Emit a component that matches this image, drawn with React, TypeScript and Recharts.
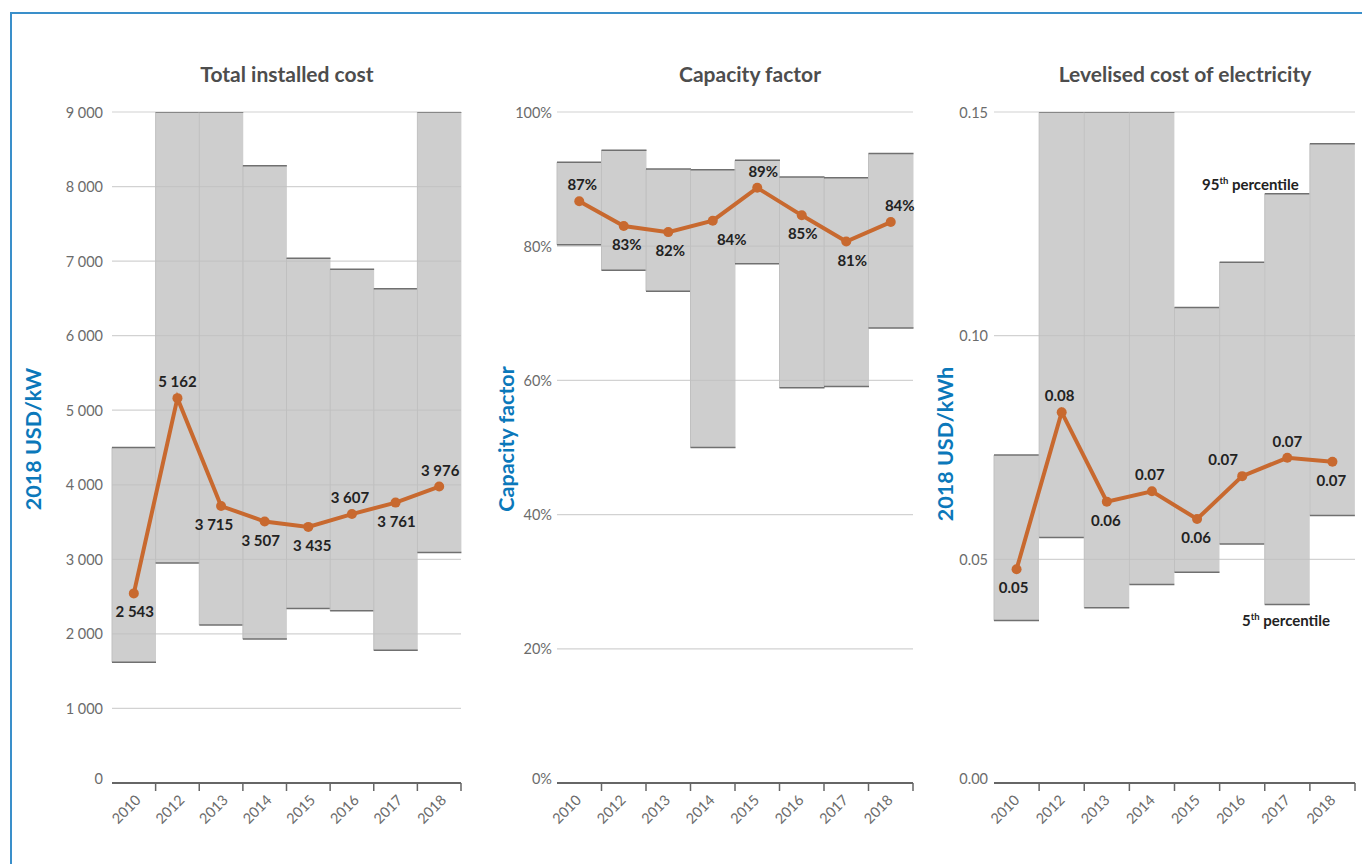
import React from 'react';
import { ComposedChart, Bar, Line, XAxis, YAxis, CartesianGrid, LabelList } from 'recharts';

const years = ['2010', '2012', '2013', '2014', '2015', '2016', '2017', '2018'];

// Total installed cost, 2018 USD/kW
const costP95 = [4500, 9000, 9000, 8280, 7040, 6890, 6630, 9000];
const costP5 = [1620, 2950, 2120, 1930, 2340, 2310, 1780, 3090];
const costAvg = [2543, 5162, 3715, 3507, 3435, 3607, 3761, 3976];
const costTicks = [0, 1000, 2000, 3000, 4000, 5000, 6000, 7000, 8000, 9000];

// Capacity factor, %
const cfP95 = [92.5, 94.3, 91.5, 91.4, 92.8, 90.3, 90.2, 93.8];
const cfP5 = [80.2, 76.4, 73.3, 50.0, 77.4, 58.9, 59.1, 67.8];
const cfAvg = [86.7, 83.0, 82.1, 83.8, 88.7, 84.6, 80.7, 83.6];
const cfTicks = [0, 20, 40, 60, 80, 100];

// Levelised cost of electricity, 2018 USD/kWh
const lcoeP95 = [0.0733, 0.15, 0.15, 0.15, 0.1063, 0.1164, 0.1317, 0.1429];
const lcoeP5 = [0.0363, 0.0549, 0.0392, 0.0444, 0.0471, 0.0534, 0.0399, 0.0598];
const lcoeAvg = [0.0478, 0.0829, 0.0629, 0.0652, 0.059, 0.0686, 0.0727, 0.0718];
const lcoeTicks = [0, 0.05, 0.1, 0.15];

// label placement (a = above, b = below) and horizontal nudges
const costSide = ['b', 'a', 'b', 'b', 'b', 'a', 'b', 'a'];
const costDx = [1, 0, -7, -4, 4, -2, 1, 1];
const cfSide = ['a', 'b', 'b', 'b', 'a', 'b', 'b', 'a'];
const cfDx = [3, 3, 2, 19, 6, 1, 6, 9];
const lcoeSide = ['b', 'a', 'b', 'a', 'b', 'a', 'a', 'b'];
const lcoeDx = [-3, -2, -1, -2, -1, -19, 0, -1];

const ORANGE = '#c8692f';
const BLUE = '#0b78ba';
const FONT = 'Lato, "Noto Sans", sans-serif';
const PLOT_TOP = 112;
const PLOT_BOTTOM = 783;
const H = 864;

const fmtThousands = (v: number) => String(Math.round(v)).replace(/\B(?=(\d{3})+(?!\d))/g, '\u00a0');

const BandShape = (props: any) => {
  const { x, y, width, height } = props;
  if (width == null || height == null) return null;
  return (
    <g>
      <rect x={x} y={y} width={width} height={height} fill="rgb(191,191,191)" fillOpacity={0.77} />
      <line x1={x} x2={x} y1={y} y2={y + height} stroke="#c0c0c0" strokeWidth={1} />
      <line x1={x} x2={x + width} y1={y} y2={y} stroke="#707070" strokeWidth={1.5} />
      <line x1={x} x2={x + width} y1={y + height} y2={y + height} stroke="#707070" strokeWidth={1.5} />
    </g>
  );
};

type PanelProps = {
  left: number;
  width: number;
  plotLeft: number;
  plotRight: number;
  ticks: number[];
  tickFmt: (v: number) => string;
  tickGap: number;
  p5: number[];
  p95: number[];
  avg: number[];
  labelFmt: (v: number) => string;
  side: string[];
  dx: number[];
  xTickDx: number;
};

const Panel: React.FC<PanelProps> = (p) => {
  const data = years.map((year, i) => ({ year, band: [p.p5[i], p.p95[i]], avg: p.avg[i] }));
  const bw = (p.plotRight - p.plotLeft) / years.length;
  const yW = 50;

  const XTick = (t: any) => {
    const { x, y, payload } = t;
    return (
      <g>
        <line x1={x + bw / 2} x2={x + bw / 2} y1={y - 8} y2={y} stroke="#666" strokeWidth={1.5} />
        <text
          transform={`translate(${x + p.xTickDx},${y + 10}) rotate(-45)`}
          textAnchor="end"
          fill="#6b6b6b"
          fontSize={14.5}
          fontFamily={FONT}
        >
          {payload.value}
        </text>
      </g>
    );
  };

  const YTick = (t: any) => {
    const { x, y, payload } = t;
    return (
      <text
        x={x}
        y={payload.value === 0 ? y - 5 : y}
        textAnchor="end"
        dominantBaseline="central"
        fill="#6b6b6b"
        fontSize={14.5}
        fontFamily={FONT}
      >
        {p.tickFmt(payload.value)}
      </text>
    );
  };

  const PointLabel = (l: any) => {
    const { x, y, value, index } = l;
    const above = p.side[index] === 'a';
    return (
      <text
        x={x + p.dx[index]}
        y={y + (above ? -17 : 18)}
        textAnchor="middle"
        dominantBaseline="central"
        fill="#222"
        fontSize={15}
        fontWeight={700}
        fontFamily={FONT}
      >
        {p.labelFmt(value)}
      </text>
    );
  };

  return (
    <div style={{ position: 'absolute', left: p.left, top: 0 }}>
      <ComposedChart
        width={p.width}
        height={H}
        data={data}
        barCategoryGap={0}
        barGap={0}
        margin={{
          top: PLOT_TOP,
          bottom: H - PLOT_BOTTOM - 50,
          left: p.plotLeft - p.left - yW,
          right: p.left + p.width - p.plotRight,
        }}
      >
        <CartesianGrid vertical={false} stroke="#d2d2d2" strokeWidth={1.2} />
        <XAxis
          dataKey="year"
          type="category"
          interval={0}
          height={50}
          tickSize={8}
          tickMargin={0}
          tickLine={false}
          axisLine={{ stroke: '#666', strokeWidth: 2 }}
          tick={XTick}
        />
        <YAxis
          width={yW}
          domain={[p.ticks[0], p.ticks[p.ticks.length - 1]]}
          ticks={p.ticks}
          interval={0}
          allowDataOverflow
          axisLine={false}
          tickLine={false}
          tickSize={0}
          tickMargin={p.tickGap}
          tick={YTick}
        />
        <Bar dataKey="band" shape={BandShape} isAnimationActive={false} />
        <Line
          dataKey="avg"
          type="linear"
          stroke={ORANGE}
          strokeWidth={4}
          dot={{ r: 5, fill: ORANGE, stroke: ORANGE, strokeWidth: 0 }}
          isAnimationActive={false}
        >
          <LabelList dataKey="avg" content={PointLabel} />
        </Line>
      </ComposedChart>
    </div>
  );
};

const titleStyle = (x: number): React.CSSProperties => ({
  position: 'absolute',
  left: x,
  top: 73,
  transform: 'translate(-50%, -50%)',
  fontFamily: FONT,
  fontWeight: 700,
  fontSize: 21,
  color: '#4d4d4d',
  whiteSpace: 'nowrap',
});

const yLabelStyle = (x: number, y: number): React.CSSProperties => ({
  position: 'absolute',
  left: x,
  top: y,
  transform: 'translate(-50%, -50%) rotate(-90deg)',
  fontFamily: FONT,
  fontWeight: 700,
  fontSize: 21.5,
  color: BLUE,
  whiteSpace: 'nowrap',
});

const noteStyle = (x: number, y: number): React.CSSProperties => ({
  position: 'absolute',
  left: x,
  top: y,
  transform: 'translateY(-50%)',
  fontFamily: FONT,
  fontWeight: 700,
  fontSize: 15,
  color: '#222',
  whiteSpace: 'nowrap',
});

export default function App() {
  return (
    <div style={{ position: 'relative', width: 1362, height: 864, overflow: 'hidden', background: '#fff' }}>
      <style>{'body{margin:0}'}</style>
      <div
        style={{
          position: 'absolute',
          left: 10,
          top: 12,
          width: 1400,
          height: 900,
          borderTop: '2px solid #3a8fca',
          borderLeft: '2px solid #3a8fca',
        }}
      />

      <Panel
        left={0}
        width={480}
        plotLeft={112}
        plotRight={461}
        ticks={costTicks}
        tickFmt={fmtThousands}
        tickGap={9}
        p5={costP5}
        p95={costP95}
        avg={costAvg}
        labelFmt={fmtThousands}
        side={costSide}
        dx={costDx}
        xTickDx={8}
      />
      <Panel
        left={480}
        width={450}
        plotLeft={557}
        plotRight={913}
        ticks={cfTicks}
        tickFmt={(v) => `${v}%`}
        tickGap={5}
        p5={cfP5}
        p95={cfP95}
        avg={cfAvg}
        labelFmt={(v) => `${Math.round(v)}%`}
        side={cfSide}
        dx={cfDx}
        xTickDx={3}
      />
      <Panel
        left={920}
        width={442}
        plotLeft={994}
        plotRight={1355}
        ticks={lcoeTicks}
        tickFmt={(v) => v.toFixed(2)}
        tickGap={6}
        p5={lcoeP5}
        p95={lcoeP95}
        avg={lcoeAvg}
        labelFmt={(v) => v.toFixed(2)}
        side={lcoeSide}
        dx={lcoeDx}
        xTickDx={4}
      />

      <div style={titleStyle(287)}>Total installed cost</div>
      <div style={titleStyle(750)}>Capacity factor</div>
      <div style={titleStyle(1185)}>Levelised cost of electricity</div>

      <div style={yLabelStyle(33, 439)}>2018 USD/kW</div>
      <div style={yLabelStyle(506, 439)}>Capacity factor</div>
      <div style={yLabelStyle(945, 444)}>2018 USD/kWh</div>

      <div style={noteStyle(1202, 184)}>
        95<sup style={{ fontSize: 9.5 }}>th</sup> percentile
      </div>
      <div style={noteStyle(1242, 620)}>
        5<sup style={{ fontSize: 9.5 }}>th</sup> percentile
      </div>
    </div>
  );
}
